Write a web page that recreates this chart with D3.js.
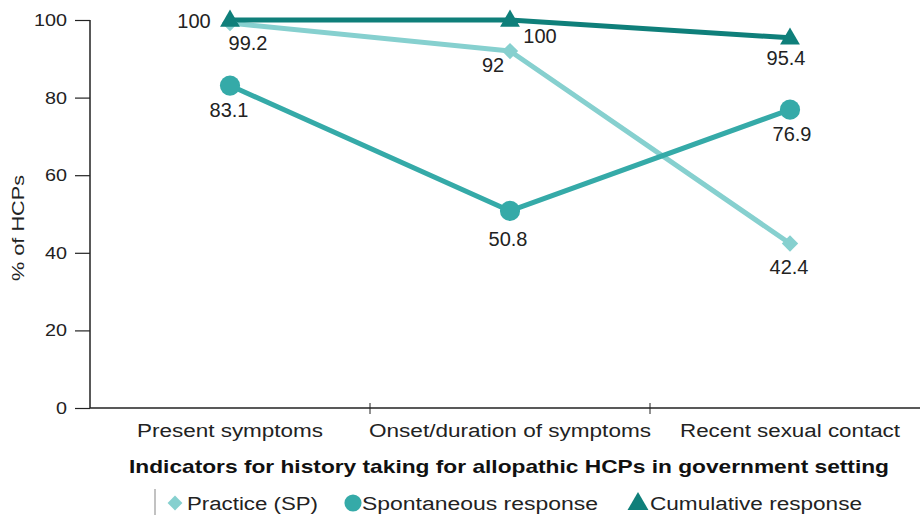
<!DOCTYPE html>
<html><head><meta charset="utf-8">
<script src="https://cdn.jsdelivr.net/npm/d3@7"></script>
<style>body{margin:0;background:#fff}svg{display:block}text{font-family:"Liberation Sans",Arial,sans-serif}</style>
</head><body><svg id="c" width="920" height="515"></svg>
<script>
const categories = ["Present symptoms", "Onset/duration of symptoms", "Recent sexual contact"];
const practice = [99.2, 92, 42.4];
const spontaneous = [83.1, 50.8, 76.9];
const cumulative = [100, 100, 95.4];
const yTicks = [0, 20, 40, 60, 80, 100];
const seriesNames = ["Practice (SP)", "Spontaneous response", "Cumulative response"];

const svg = d3.select("#c");
const x = d3.scaleBand().domain(categories).range([90, 930]);
const y = d3.scaleLinear().domain([0, 100]).range([408, 20]);
const cx = c => x(c) + x.bandwidth() / 2;

const colors = ["#86d0cf", "#35aaa8", "#0f7f7a"];
const series = [practice, spontaneous, cumulative];

// y axis
const yAxis = svg.append("g").attr("transform", "translate(90,0)")
  .call(d3.axisLeft(y).tickValues(yTicks).tickSize(15).tickPadding(8));
yAxis.select(".domain").attr("stroke", "#222").attr("stroke-width", 1.5).attr("d", "M0,20V408");
yAxis.selectAll(".tick line").attr("stroke", "#222").attr("stroke-width", 1.2);
yAxis.selectAll(".tick text").attr("font-size", 17).attr("fill", "#222")
  .attr("textLength", d => d === 100 ? 33 : (d === 0 ? 11 : 22)).attr("lengthAdjust", "spacingAndGlyphs");

// x axis
const catLen = [186, 282, 220];
const xAxis = svg.append("g").attr("transform", "translate(0,408)")
  .call(d3.axisBottom(x).tickSize(0).tickPadding(14));
xAxis.select(".domain").attr("stroke", "#222").attr("stroke-width", 1.5).attr("d", "M90,0H920");
xAxis.selectAll(".tick text").attr("font-size", 18).attr("fill", "#222")
  .attr("dy", null).attr("y", 29)
  .attr("textLength", (d, i) => catLen[i]).attr("lengthAdjust", "spacingAndGlyphs");
// band separators
svg.append("g").selectAll("line").data(categories.slice(1)).join("line")
  .attr("x1", d => x(d)).attr("x2", d => x(d)).attr("y1", 403).attr("y2", 414)
  .attr("stroke", "#222").attr("stroke-width", 1);

// y label
svg.append("text").attr("transform", "translate(24,228) rotate(-90)")
  .attr("text-anchor", "middle").attr("font-size", 17).attr("fill", "#222")
  .attr("textLength", 106).attr("lengthAdjust", "spacingAndGlyphs").text("% of HCPs");

// x title
svg.append("text").attr("x", 509).attr("y", 473).attr("text-anchor", "middle")
  .attr("font-size", 19).attr("font-weight", "bold").attr("fill", "#111")
  .attr("textLength", 760).attr("lengthAdjust", "spacingAndGlyphs")
  .text("Indicators for history taking for allopathic HCPs in government setting");

const line = d3.line().x((d, i) => cx(categories[i])).y(d => y(d));
series.forEach((s, k) => {
  svg.append("path").datum(s).attr("d", line).attr("fill", "none")
    .attr("stroke", colors[k]).attr("stroke-width", 5).attr("stroke-linejoin", "round");
});

const symTypes = [d3.symbolDiamond2, d3.symbolCircle, d3.symbolTriangle];
const symSizes = [170, 320, 170];
series.forEach((s, k) => {
  svg.append("g").selectAll("path").data(s).join("path")
    .attr("transform", (d, i) => `translate(${cx(categories[i])},${y(d) + (k === 2 ? 1 : 0)})`)
    .attr("d", d3.symbol().type(symTypes[k]).size(symSizes[k])).attr("fill", colors[k]);
});

// data labels (offsets from the point)
const lblOff = [
  [[18, 27], [-17, 21], [-1, 31]],
  [[-1, 31], [-2, 35], [2, 31]],
  [[-36, 8], [30, 23], [-4, 27]]
];
series.forEach((s, k) => {
  svg.append("g").selectAll("text").data(s).join("text")
    .attr("x", (d, i) => cx(categories[i]) + lblOff[k][i][0])
    .attr("y", (d, i) => y(d) + lblOff[k][i][1])
    .attr("text-anchor", "middle").attr("font-size", 20).attr("fill", "#222")
    .text(d => d);
});

// legend
const lg = svg.append("g");
lg.append("line").attr("x1", 155).attr("x2", 155).attr("y1", 489).attr("y2", 515).attr("stroke", "#999").attr("stroke-width", 1.2);
const lx = [175, 353, 638];
const lLen = [131, 236, 212];
const lSizes = [140, 230, 190];
seriesNames.forEach((n, k) => {
  lg.append("path").attr("transform", `translate(${lx[k]},${503 + (k === 2 ? 1 : 0)})`)
    .attr("d", d3.symbol().type(symTypes[k]).size(lSizes[k]))
    .attr("fill", colors[k]);
  lg.append("text").attr("x", lx[k] + (k === 1 ? 9 : 12)).attr("y", 510).attr("font-size", 18).attr("fill", "#222")
    .attr("textLength", lLen[k]).attr("lengthAdjust", "spacingAndGlyphs").text(n);
});
</script></body></html>
